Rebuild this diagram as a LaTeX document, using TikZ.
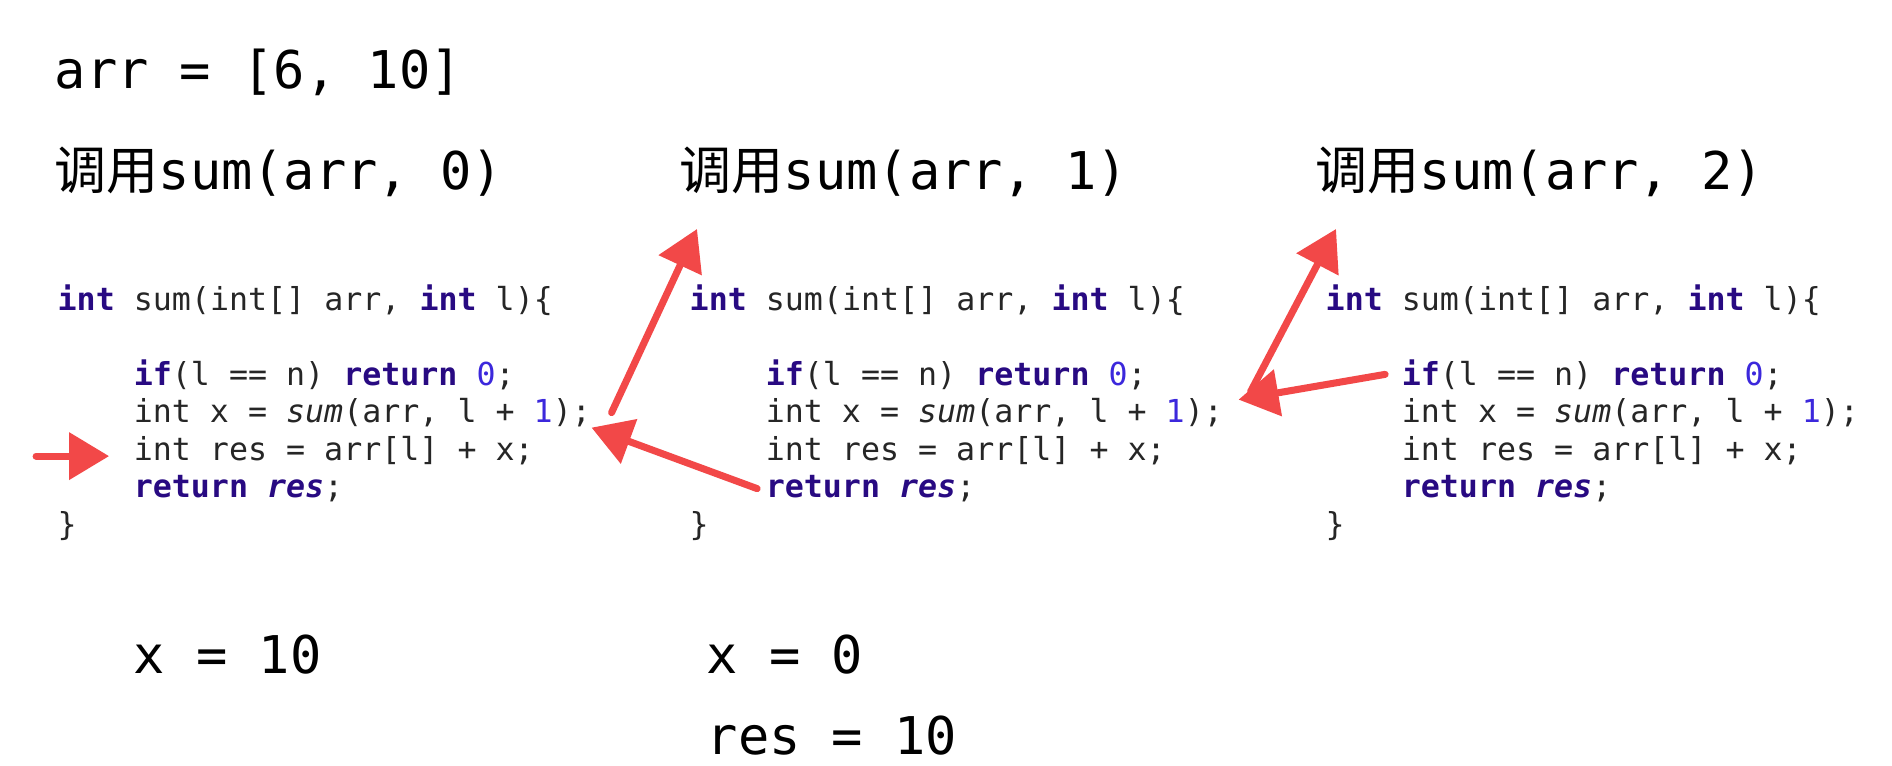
\documentclass[tikz,border=0pt]{standalone}
\usepackage{fontspec}
\setmonofont{DejaVu Sans Mono}[BoldFont={DejaVu Sans Mono Bold},ItalicFont={DejaVu Sans Mono Oblique},BoldItalicFont={DejaVu Sans Mono Bold Oblique}]
\newfontfamily\cjk{Noto Sans CJK SC}
\usepackage{tikz}
\usetikzlibrary{positioning, arrows.meta}
\definecolor{kwblue}{RGB}{40,10,130}
\definecolor{numblue}{RGB}{60,40,220}
\definecolor{penred}{RGB}{242,72,72}
\newcommand{\kwd}[1]{\textcolor{kwblue}{\textbf{#1}}}
\newcommand{\nmb}[1]{\textcolor{numblue}{#1}}

\begin{document}
\begin{tikzpicture}[
    big/.style={font=\ttfamily\fontsize{14.8}{17}\selectfont, inner sep=0pt, anchor=base west},
    code/.style={font=\ttfamily\fontsize{9}{11}\selectfont, inner sep=0pt, anchor=base west, text=black!85},
    pen/.style={draw=penred, line width=2pt, line cap=round, -{Triangle[length=0.4cm, width=0.46cm]}}
]
    \useasboundingbox[fill=white] (0,0) rectangle (18.92,-7.65);

    \node[big] (arr) at (0.54,-0.88) {arr = [6, 10]};

    \foreach \c/\tx/\cx/\n in {A/0.54/0.57/0, B/6.79/6.89/1, C/13.15/13.25/2}{
        \node[big] (title\c) at (\tx,-1.89) {{\cjk 调用}sum(arr, \n)};

        \node[code] (sig\c) at (\cx,-3.10) {\kwd{int} sum(int[] arr, \kwd{int} l)\{};
        \node[code] (if\c) at ([xshift=7.61mm, yshift=-7.5mm]sig\c.base west) {\kwd{if}(l == n) \kwd{return} \nmb{0};};
        \node[code] (call\c) at ([yshift=-3.75mm]if\c.base west) {int x = \textit{sum}(arr, l + \nmb{1});};
        \node[code] (res\c) at ([yshift=-3.75mm]call\c.base west) {int res = arr[l] + x;};
        \node[code] (ret\c) at ([yshift=-3.75mm]res\c.base west) {\kwd{return} \textcolor{kwblue}{\textbf{\textit{res}}};};
        \node[code] (end\c) at ([xshift=-7.61mm, yshift=-3.75mm]ret\c.base west) {\}};
    }

    \node[big] (xA) at (1.33,-6.73) {x = 10};
    \node[big] (xB) at (7.06,-6.73) {x = 0};
    \node[big] (resB) at ([yshift=-8.1mm]xB.base west) {res = 10};

    % red pen strokes
    \draw[pen] ([xshift=-9.7mm, yshift=-0.6mm]resA.west) -- ([xshift=-2.4mm, yshift=-0.6mm]resA.west);
    \draw[pen] ([xshift=2mm]callA.east) -- ([xshift=1.8mm, yshift=-3.2mm]titleB.south west);
    \draw[pen] ([xshift=-0.8mm]retB.west) -- ([yshift=-1.5mm]callA.east);
    \draw[pen] ([xshift=-1.6mm]ifC.west) -- ([xshift=1.5mm, yshift=1.3mm]callB.east);
    \draw[pen] ([xshift=2.7mm, yshift=2.1mm]callB.east) -- ([xshift=2.1mm, yshift=-3.2mm]titleC.south west);
\end{tikzpicture}
\end{document}
